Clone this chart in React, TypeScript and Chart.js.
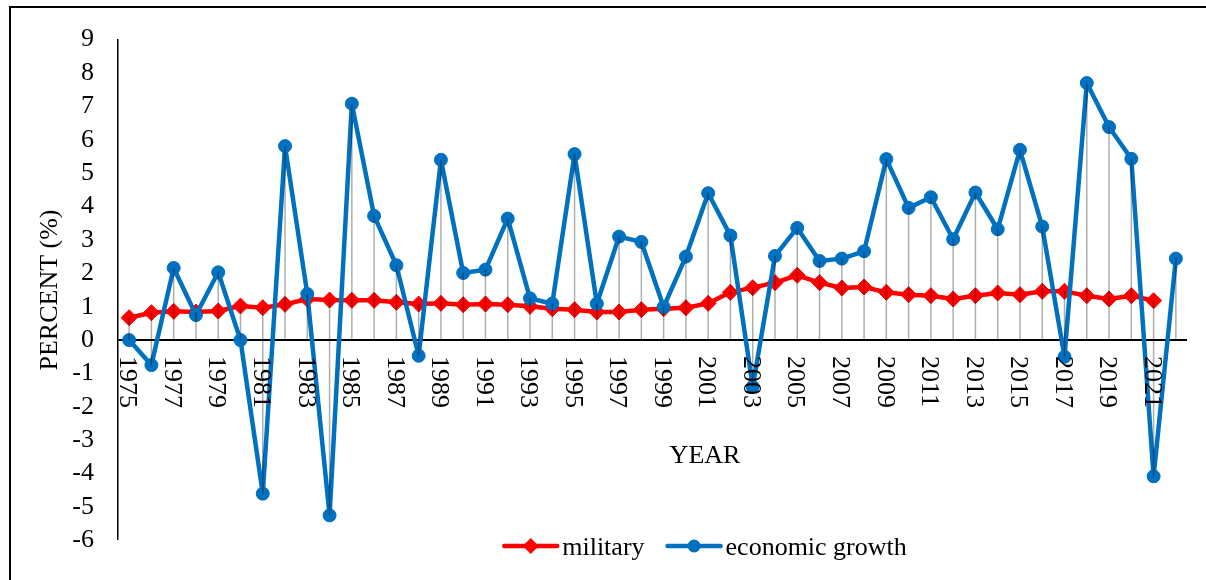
import React, { useEffect, useRef } from 'react';
import { Chart, registerables } from 'chart.js';

Chart.register(...registerables);

const years = [
  '1975', '1976', '1977', '1978', '1979', '1980', '1981', '1982', '1983', '1984',
  '1985', '1986', '1987', '1988', '1989', '1990', '1991', '1992', '1993', '1994',
  '1995', '1996', '1997', '1998', '1999', '2000', '2001', '2002', '2003', '2004',
  '2005', '2006', '2007', '2008', '2009', '2010', '2011', '2012', '2013', '2014',
  '2015', '2016', '2017', '2018', '2019', '2020', '2021', '2022',
];

const militaryValues: (number | null)[] = [
  0.67, 0.82, 0.86, 0.84, 0.87, 1.02, 0.97, 1.07, 1.23, 1.20,
  1.19, 1.19, 1.13, 1.08, 1.10, 1.06, 1.08, 1.06, 1.01, 0.94,
  0.91, 0.84, 0.84, 0.91, 0.94, 0.97, 1.10, 1.43, 1.57, 1.72,
  1.94, 1.72, 1.56, 1.59, 1.43, 1.36, 1.33, 1.23, 1.33, 1.41,
  1.36, 1.46, 1.46, 1.33, 1.23, 1.33, 1.18, null,
];

const growthValues: (number | null)[] = [
  0.0, -0.75, 2.16, 0.75, 2.03, 0.0, -4.6, 5.81, 1.38, -5.25,
  7.08, 3.72, 2.24, -0.47, 5.40, 2.01, 2.11, 3.64, 1.25, 1.09,
  5.57, 1.09, 3.10, 2.94, 0.99, 2.50, 4.40, 3.13, -1.40, 2.52,
  3.36, 2.37, 2.44, 2.66, 5.42, 3.96, 4.28, 3.02, 4.42, 3.32,
  5.70, 3.40, -0.50, 7.70, 6.38, 5.43, -4.08, 2.44,
];

const seriesNames = ['military', 'economic growth'];
const yMin = -6;
const yMax = 9;
const xAxisTitle = 'YEAR';
const yAxisTitle = 'PERCENT (%)';

const FONT = "'Liberation Serif', 'Times New Roman', serif";
const RED = '#ff0000';
const BLUE = '#0070c0';

const customPlugin = {
  id: 'customDecor',
  beforeDraw(chart: any) {
    const ctx = chart.ctx;
    ctx.save();
    ctx.strokeStyle = '#000';
    ctx.lineWidth = 2;
    ctx.beginPath();
    ctx.moveTo(10, chart.height);
    ctx.lineTo(10, 7);
    ctx.lineTo(chart.width, 7);
    ctx.stroke();
    ctx.restore();
  },
  afterDatasetsDraw(chart: any) {
    const ctx = chart.ctx;
    const xs = chart.scales.x;
    const ys = chart.scales.y;
    ctx.save();
    ctx.strokeStyle = 'rgba(0,0,0,0.32)';
    ctx.lineWidth = 1.5;
    for (let i = 0; i < years.length; i++) {
      const vals = [0, militaryValues[i], growthValues[i]].filter(
        (v) => v !== null && v !== undefined
      ) as number[];
      const top = Math.max(...vals);
      const bot = Math.min(...vals);
      const px = xs.getPixelForValue(i);
      ctx.beginPath();
      ctx.moveTo(px, ys.getPixelForValue(top));
      ctx.lineTo(px, ys.getPixelForValue(bot));
      ctx.stroke();
    }
    ctx.restore();
  },
  afterDraw(chart: any) {
    const ctx = chart.ctx;
    const xs = chart.scales.x;
    const ys = chart.scales.y;
    const zeroY = ys.getPixelForValue(0);
    ctx.save();
    ctx.fillStyle = '#000';
    ctx.font = `26px ${FONT}`;
    ctx.textAlign = 'left';
    ctx.textBaseline = 'alphabetic';
    for (let i = 0; i < years.length; i += 2) {
      const px = xs.getPixelForValue(i);
      ctx.save();
      ctx.translate(px, zeroY + 16);
      ctx.rotate(Math.PI / 2);
      ctx.fillText(years[i], 0, 8.8);
      ctx.restore();
    }
    ctx.textAlign = 'center';
    const centerX = 705;
    ctx.fillText(xAxisTitle, centerX, 462.5);

    const lineLen = 55;
    const gapText = 4;
    const gapItem = 22;
    const legendY = 546;
    const items = chart.data.datasets.map((ds: any) => ({
      label: ds.label,
      color: ds.borderColor,
      style: ds.pointStyle,
      r: ds.pointRadius,
      w: ctx.measureText(ds.label).width,
    }));
    let total = 0;
    items.forEach((it: any, idx: number) => {
      total += lineLen + gapText + it.w + (idx > 0 ? gapItem : 0);
    });
    let x = centerX - total / 2;
    ctx.textAlign = 'left';
    items.forEach((it: any) => {
      ctx.strokeStyle = it.color;
      ctx.fillStyle = it.color;
      ctx.lineWidth = 4.5;
      ctx.lineCap = 'round';
      ctx.beginPath();
      ctx.moveTo(x + 1, legendY);
      ctx.lineTo(x + lineLen - 1, legendY);
      ctx.stroke();
      const mx = x + lineLen / 2;
      ctx.beginPath();
      if (it.style === 'rectRot') {
        ctx.moveTo(mx - it.r, legendY);
        ctx.lineTo(mx, legendY - it.r);
        ctx.lineTo(mx + it.r, legendY);
        ctx.lineTo(mx, legendY + it.r);
        ctx.closePath();
      } else {
        ctx.arc(mx, legendY, it.r, 0, Math.PI * 2);
      }
      ctx.fill();
      ctx.fillStyle = '#000';
      ctx.fillText(it.label, x + lineLen + gapText, 554.5);
      x += lineLen + gapText + it.w + gapItem;
    });
    ctx.restore();
  },
};

export default function App() {
  const canvasRef = useRef<HTMLCanvasElement | null>(null);

  useEffect(() => {
    const canvas = canvasRef.current;
    if (!canvas) return;
    const chart = new Chart(canvas, {
      type: 'line',
      data: {
        labels: years,
        datasets: [
          {
            label: seriesNames[0],
            data: militaryValues,
            borderColor: RED,
            backgroundColor: RED,
            borderWidth: 4.5,
            pointStyle: 'rectRot',
            pointRadius: 8,
            pointBorderWidth: 1,
            pointBackgroundColor: RED,
            pointBorderColor: RED,
            borderJoinStyle: 'round',
            borderCapStyle: 'round',
            tension: 0,
            order: 1,
          },
          {
            label: seriesNames[1],
            data: growthValues,
            borderColor: BLUE,
            backgroundColor: BLUE,
            borderWidth: 4.5,
            pointStyle: 'circle',
            pointRadius: 6.5,
            pointBorderWidth: 1,
            pointBackgroundColor: BLUE,
            pointBorderColor: BLUE,
            borderJoinStyle: 'round',
            borderCapStyle: 'round',
            tension: 0,
            order: 0,
          },
        ],
      },
      options: {
        responsive: false,
        devicePixelRatio: 1,
        animation: false,
        layout: { padding: { left: 20, top: 34, right: 19, bottom: 35 } },
        plugins: {
          legend: { display: false },
          tooltip: { enabled: false },
        },
        scales: {
          x: {
            type: 'category',
            display: false,
            offset: true,
          },
          y: {
            min: yMin,
            max: yMax,
            afterFit: (scale: any) => {
              scale.width = 98;
            },
            border: { display: true, color: '#000', width: 1.5 },
            grid: {
              drawTicks: false,
              color: (c: any) => (c.tick && c.tick.value === 0 ? '#000' : 'rgba(0,0,0,0)'),
              lineWidth: (c: any) => (c.tick && c.tick.value === 0 ? 2 : 0),
            },
            ticks: {
              stepSize: 1,
              autoSkip: false,
              maxTicksLimit: 30,
              padding: 24,
              color: '#000',
              font: { family: FONT, size: 26 },
            },
            title: {
              display: true,
              text: yAxisTitle,
              color: '#000',
              font: { family: FONT, size: 26 },
              padding: { top: 15, bottom: 0 },
            },
          },
        },
      },
      plugins: [customPlugin],
    } as any);
    return () => chart.destroy();
  }, []);

  return (
    <div
      style={{
        position: 'fixed',
        left: 0,
        top: 0,
        width: 1206,
        height: 580,
        background: '#fff',
      }}
    >
      <canvas ref={canvasRef} width={1206} height={580} style={{ display: 'block' }} />
    </div>
  );
}
